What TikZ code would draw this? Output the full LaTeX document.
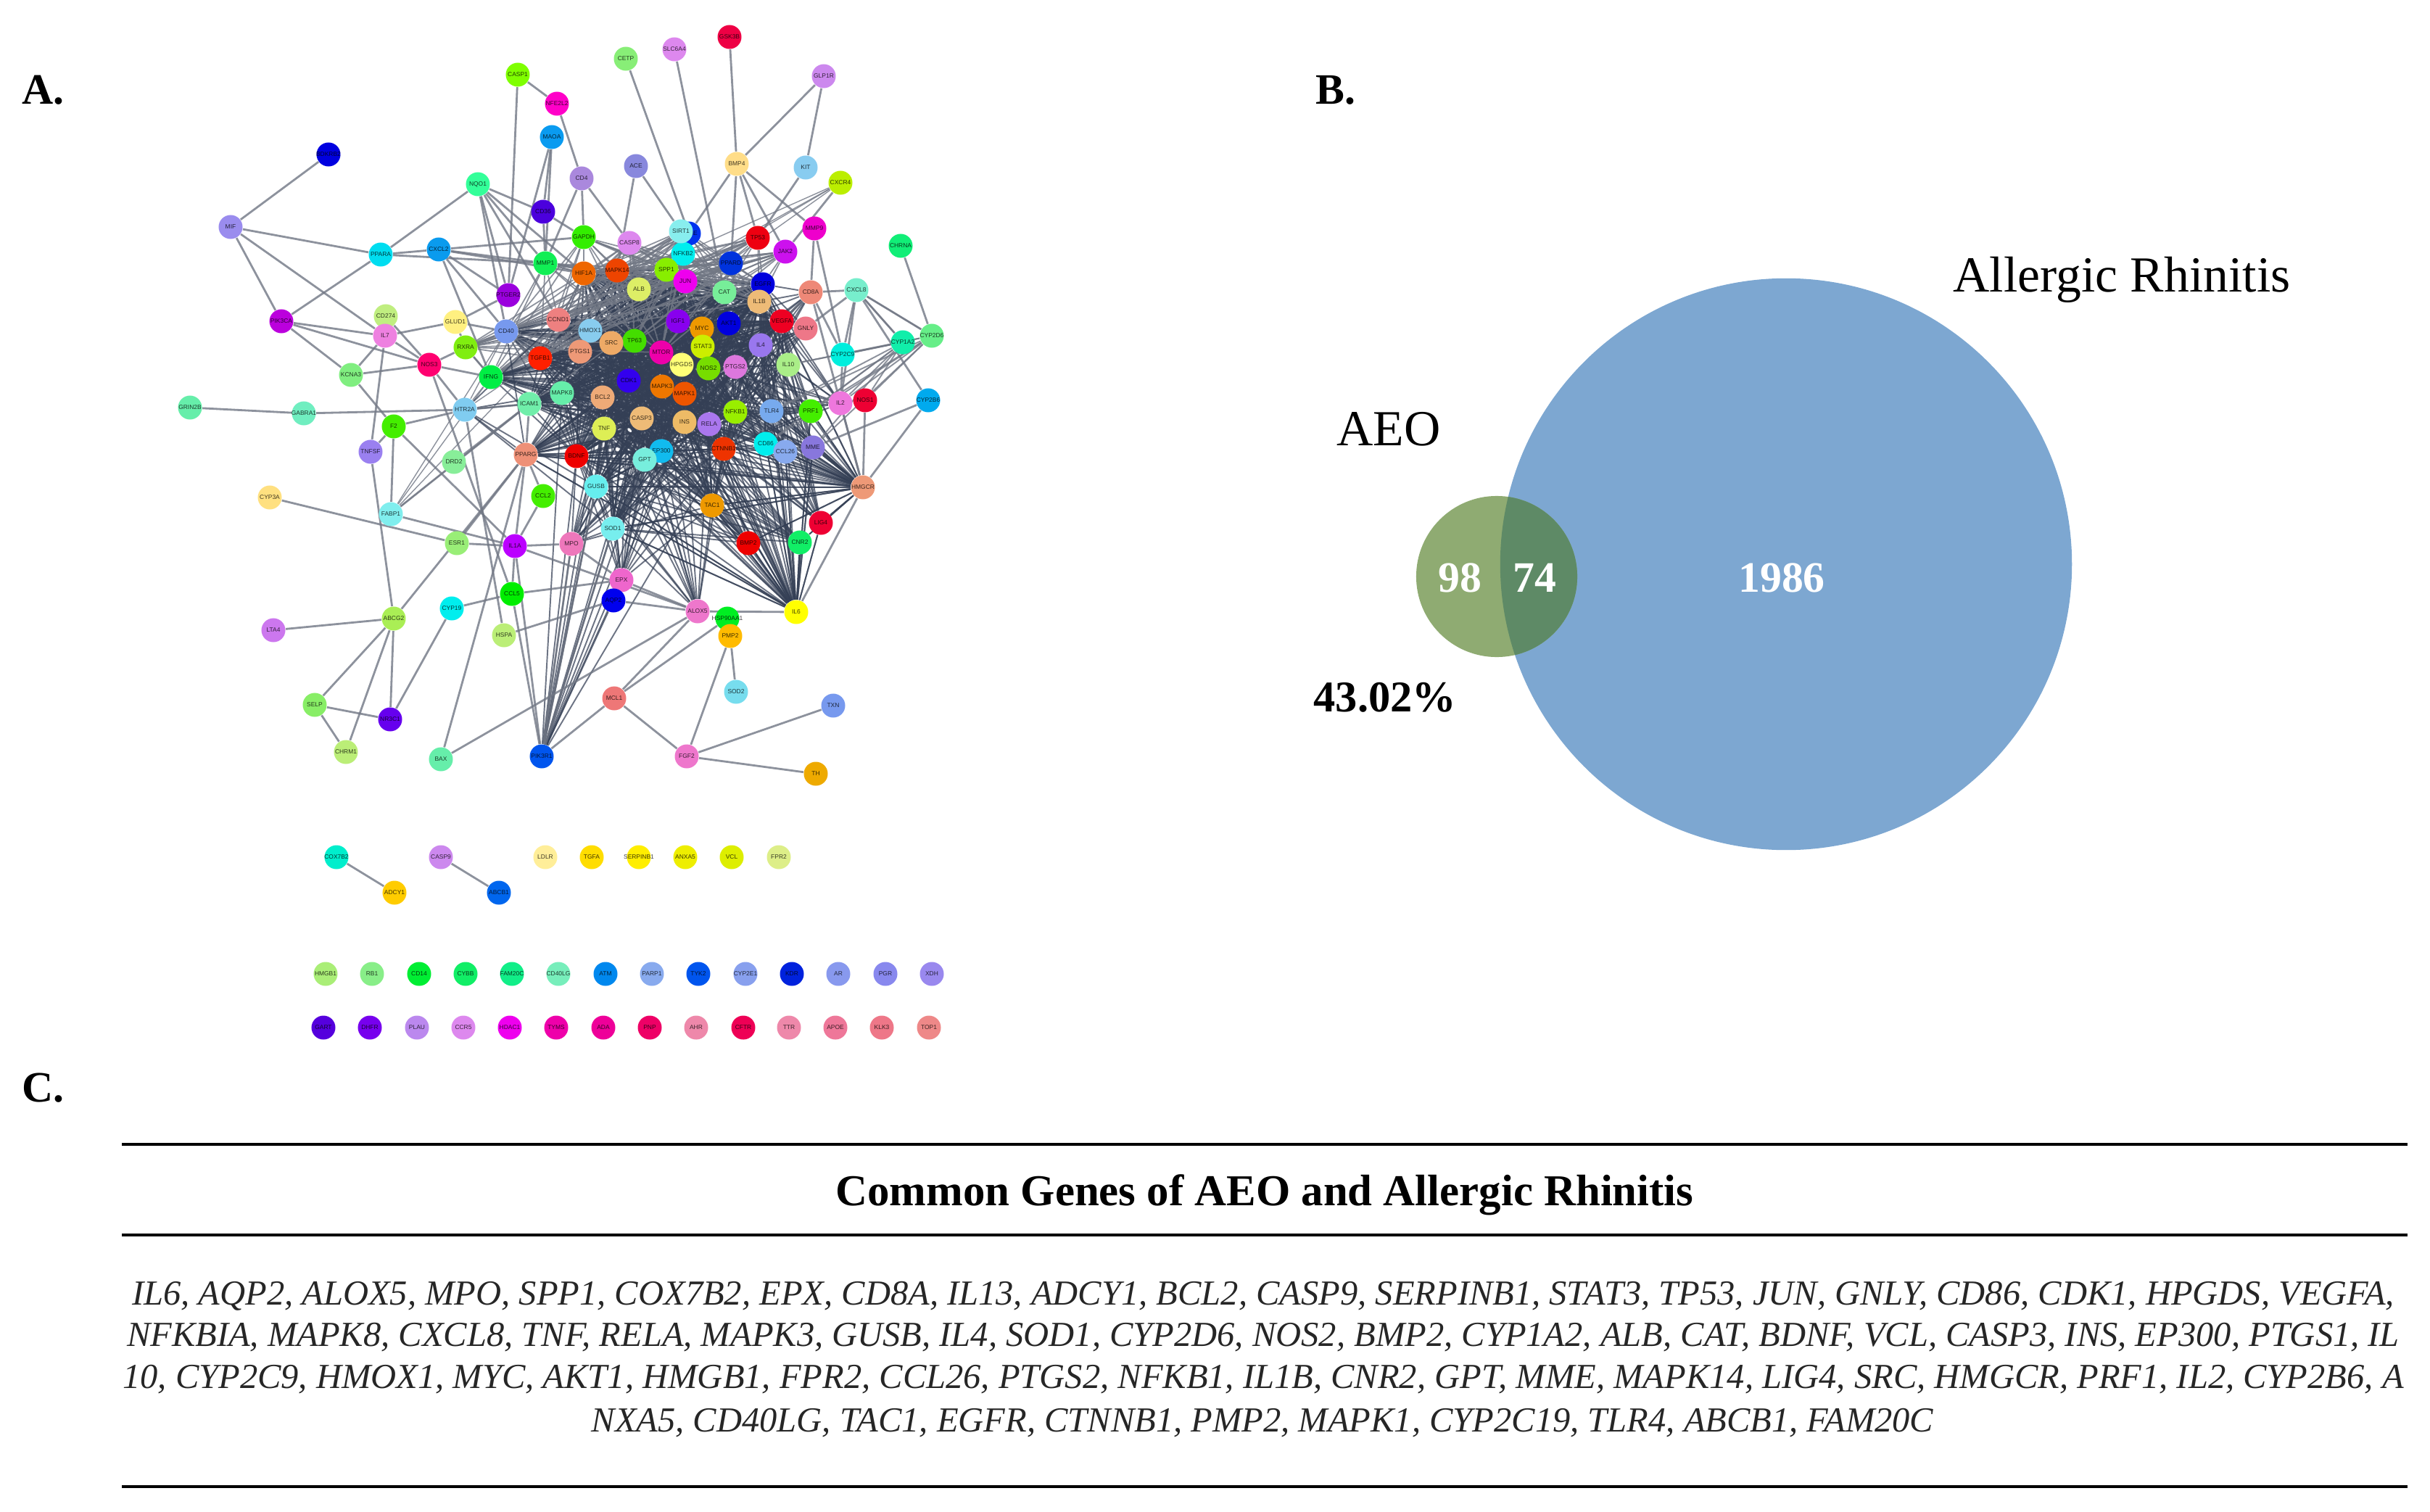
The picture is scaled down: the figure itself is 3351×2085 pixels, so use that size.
\documentclass[tikz,border=0pt]{standalone}
\usepackage{fontspec}
\setmainfont{Liberation Serif}
\newfontfamily\genefont{Liberation Sans}
\usetikzlibrary{backgrounds}
\tikzset{
  gene/.style={circle,draw=none,minimum size=.33cm,inner sep=0pt,font=\genefont\fontsize{2.4}{3}\selectfont,text=black,text opacity=.75},
  edge/.style={draw=edgegray,line width=.8pt,opacity=.8},
  coreedge/.style={draw=edgedark,line width=.55pt,opacity=.72},
  rulefill/.style={line width=1.1pt,black},
  panel/.style={font=\fontsize{17}{20}\selectfont\bfseries,inner sep=0pt},
  big/.style={font=\fontsize{19.8}{23}\selectfont,inner sep=0pt},
  num/.style={font=\fontsize{17}{20}\selectfont\bfseries,text=white,inner sep=0pt},
  bodyline/.style={font=\fontsize{13.8}{17}\selectfont\itshape,inner sep=0pt,text=black!85},
}
\definecolor{edgegray}{HTML}{717784}
\definecolor{edgedark}{HTML}{343F55}
\definecolor{vennblue}{HTML}{7DA7D1}
\definecolor{venngreen}{HTML}{8FAB72}
\definecolor{vennmix}{HTML}{5E8A66}
\begin{document}
\begin{tikzpicture}[x=.01cm,y=-.01cm]
\useasboundingbox (0,0) rectangle (3351,2085);
% ---------- network nodes
\foreach \i/\x/\y/\c in {
BDKRB2/453/213/0000E0, MIF/318/313/9A8CEE, CASP1/714/103/7FFF00, NFE2L2/768/143/FF00C8,
MAOA/761/189/0A9BF0, NQO1/659/254/33FF99, CD36/749/292/4B00DD, PPARA/525/351/00DDF0,
CXCL2/605/344/0A9BEE, MMP1/752/363/11EE55, PTGER2/701/407/9A00DD, PIK3CA/388/443/BB00DD,
CD274/532/436/C0EE80, GLUD1/628/444/FFF080, IL7/531/463/EE80E0, CD40/698/457/7799EE,
RXRA/642/479/80EE10, NOS3/592/503/FF0070, TGFB1/745/494/FF2000, IFNG/677/520/00EE44,
KCNA3/484/517/80EE80, GRIN2B/262/562/66EEAA, GABRA1/419/570/70EEC0, HTR2A/641/565/80CCF0,
F2/543/588/44EE00, TNFSF/511/623/9A80F0, DRD2/626/637/88EE99, PPARG/725/627/EE9077,
ICAM1/730/557/70EEAA, CYP3A/372/686/FFE080, FABP1/539/709/80EEEE, ESR1/630/749/99EE77,
IL1A/710/753/BB00FF, CCL2/749/684/44EE00, CCL5/706/819/00EE00, CYP19/623/839/00EEEE,
ABCG2/543/853/AAEE55, HSPA/695/876/BBEE77, LTA4/377/869/CC77EE, SELP/434/972/88EE66,
NR3C1/538/992/6600EE, CHRM1/477/1037/BBEE77, BAX/608/1047/66EEAA, PIK3R1/747/1043/0055EE,
MCL1/847/963/EE7777, FGF2/947/1043/EE77CC, SOD2/1015/954/77DDEE, TXN/1149/973/7799EE,
TH/1125/1067/EEAA00,
CETP/863/81/88EE77, SLC6A4/930/68/DD88EE, GSK3B/1006/51/EE0044, GLP1R/1136/105/CC88EE,
BMP4/1016/226/FFDD88, KIT/1111/231/88CCF0, CXCR4/1159/252/BBEE00, ACE/877/229/8888DD,
CD4/802/246/AA88DD, MMP9/1123/315/EE00CC, CHRNA/1242/339/11EE77, TP53/1045/328/EE0011,
JAK2/1083/347/CC11EE, PPARD/1008/363/0033DD, GAPDH/805/327/33EE00, CASP8/868/335/DD88EE,
ACHE/950/322/0033EE, NFKB2/942/350/00EEEE, SIRT1/939/319/88EEEE, HIF1A/805/377/EE6600,
MAPK14/851/373/EE4400, SPP1/919/372/88EE00, JUN/945/388/EE00EE, ALB/881/399/DDEE66,
CAT/999/403/77EE99, EGFR/1052/392/0000DD, IL1B/1047/416/EEBB77, CD8A/1118/403/EE8877,
CXCL8/1181/400/77EECC, CYP2D6/1285/463/66EE88, CYP1A2/1245/472/11EEAA, IGF1/935/443/8800EE,
MYC/968/453/EE9900, AKT1/1005/446/0000DD, VEGFA/1078/443/EE0022, GNLY/1111/453/EE7788,
CYP2C9/1162/489/00EEDD, IL4/1049/476/9977EE, STAT3/969/478/CCEE00, NOS2/977/508/77DD00,
PTGS2/1014/506/DD77DD, HPGDS/940/503/FFFF77, MTOR/912/486/EE00AA, TP63/875/470/44DD00,
SRC/843/473/EEAA66, HMOX1/814/456/88CCEE, PTGS1/800/485/EE9977, CCND1/770/441/EE8080,
IL10/1087/503/AAEE88, MAPK8/775/542/66EEAA, BCL2/831/548/EEAA77, CDK1/867/525/3300EE,
MAPK3/913/533/EE7700, MAPK1/944/543/EE5500, TNF/833/591/DDEE55, CASP3/885/577/EEBB77,
INS/944/582/EEBB66, RELA/978/585/AA77EE, NFKB1/1014/568/99EE00, TLR4/1064/567/77AAEE,
PRF1/1118/567/44EE00, IL2/1159/556/EE77DD, NOS1/1193/552/EE0033, CYP2B6/1280/552/00AAEE,
BDNF/795/629/EE0000, CTNNB1/998/619/EE3300, EP300/912/622/11BBEE, GPT/889/634/77EEDD,
CD86/1056/612/00EEEE, CCL26/1083/623/88AAEE, MME/1121/617/8877DD, GUSB/822/671/66EEEE,
HMGCR/1190/672/EE9977, TAC1/982/697/EE9900, LIG4/1132/721/EE0033, SOD1/845/729/77EEEE,
BMP2/1032/749/EE0000, CNR2/1103/748/11EE66, MPO/788/750/EE77BB, EPX/857/800/EE66CC,
AQP2/846/828/0000EE, ALOX5/962/843/EE77CC, HSP90AA1/1003/853/00EE22, IL6/1098/844/FFFF00,
PMP2/1007/877/FFBB00,
COX7B2/464/1182/00EECC, ADCY1/544/1231/FFCC00, CASP9/608/1182/CC88EE, ABCB1/688/1231/0066EE,
LDLR/752/1182/FFEE99, TGFA/816/1182/FFDD00, SERPINB1/881/1182/FFEE00, ANXA5/945/1182/EEEE00,
VCL/1009/1182/DDEE00, FPR2/1074/1182/DDEE88,
HMGB1/449/1343/AAEE77, RB1/513/1343/88EE88, CD14/578/1343/00EE33, CYBB/642/1343/11EE66,
FAM20C/706/1343/11EE88, CD40LG/770/1343/77EEBB, ATM/835/1343/0088EE, PARP1/899/1343/88AAEE,
TYK2/963/1343/0055EE, CYP2E1/1028/1343/88A0EE, KDR/1092/1343/0022DD, AR/1156/1343/8899EE,
PGR/1221/1343/8888EE, XDH/1285/1343/9988EE,
GART/446/1417/5500DD, DHFR/510/1417/7700EE, PLAU/575/1417/BB88EE, CCR5/639/1417/DD88EE,
HDAC1/703/1417/EE00EE, TYMS/767/1417/EE00AA, ADA/832/1417/EE0099, PNP/896/1417/EE0066,
AHR/960/1417/EE88AA, CFTR/1025/1417/EE0055, TTR/1088/1417/EE88AA, APOE/1152/1417/EE7799,
KLK3/1216/1417/EE7788, TOP1/1281/1417/EE8888}{
  \definecolor{nc}{HTML}{\c}
  \node[gene,fill=nc] (\i) at (\x,\y) {\makebox[0pt]{\i}};
}
% ---------- edges, under the nodes
\begin{pgfonlayer}{background}
% dense core: complete graph
\foreach \a [count=\p] in {HIF1A,MAPK14,ALB,IGF1,MYC,AKT1,STAT3,HPGDS,NOS2,PTGS2,MTOR,TP63,SRC,HMOX1,PTGS1,CDK1,MAPK3,MAPK1,BCL2,TNF,CASP3,INS,RELA,NFKB1,EP300,GPT,CTNNB1,JUN,SPP1,CAT,IL1B,EGFR,IL4,VEGFA,MAPK8,ICAM1,BDNF,TGFB1}{
  \foreach \b [count=\q] in {HIF1A,MAPK14,ALB,IGF1,MYC,AKT1,STAT3,HPGDS,NOS2,PTGS2,MTOR,TP63,SRC,HMOX1,PTGS1,CDK1,MAPK3,MAPK1,BCL2,TNF,CASP3,INS,RELA,NFKB1,EP300,GPT,CTNNB1,JUN,SPP1,CAT,IL1B,EGFR,IL4,VEGFA,MAPK8,ICAM1,BDNF,TGFB1}{
    \ifnum\p<\q \draw[coreedge] (\a) -- (\b); \fi
  }
}
% hubs on the rim of the core
\foreach \a in {IFNG,CD40,CCND1,PPARG,GUSB,SOD1,TAC1,IL6,HMGCR}{
  \foreach \b in {ALB,IGF1,MYC,AKT1,STAT3,HPGDS,MTOR,TP63,SRC,CDK1,MAPK3,MAPK1,BCL2,TNF,CASP3,INS,RELA,NFKB1,EP300,GPT,CTNNB1,MAPK8,BDNF,IL4,EGFR,VEGFA}{
    \draw[coreedge] (\a) -- (\b);
  }
}
\foreach \a in {IL6,HMGCR}{
  \foreach \b in {TLR4,PRF1,MME,CCL26,CD86,BMP2,CNR2,TAC1,SOD1,GUSB,PPARG,LIG4}{
    \draw[coreedge] (\a) -- (\b);
    \draw[coreedge] (\a) -- (\b);
  }
}
\foreach \a in {PIK3R1}{
  \foreach \b in {SOD1,GUSB,MPO,EPX,AQP2,BDNF,GPT,EP300,TNF,BCL2,CASP3,CTNNB1,MAPK8,INS,SOD1,GUSB}{
    \draw[coreedge] (\a) -- (\b);
  }
}
\foreach \a in {EPX,ALOX5,MPO,CNR2,BMP2}{
  \foreach \b in {SOD1,GUSB,EP300,GPT,BDNF,TNF,CASP3,INS,RELA,CTNNB1,TAC1,CDK1,MAPK3,BCL2}{
    \draw[coreedge] (\a) -- (\b);
  }
}
\foreach \a in {TLR4,PRF1,MME,CCL26,CD86,IL10,GNLY,CD8A,LIG4,IL2}{
  \foreach \b in {NFKB1,RELA,INS,IL4,PTGS2,NOS2,AKT1,EGFR,VEGFA,CTNNB1,MAPK1,IL1B}{
    \draw[coreedge] (\a) -- (\b);
  }
}
\foreach \a in {MMP1,GAPDH,CASP8,SIRT1,NFKB2,ACHE,TP53,PPARD,JAK2,RXRA}{
  \foreach \b in {HIF1A,MAPK14,SPP1,ALB,JUN,CAT,EGFR,IL1B,MTOR,TP63,IFNG,CD40,CCND1,TGFB1}{
    \draw[edge,line width=.5pt] (\a) -- (\b);
  }
}
\foreach \a in {CYP2D6,CYP1A2}{
  \foreach \b in {IL2,NOS1,PRF1,TLR4,IL10,CXCL8,CYP2C9,CD86,MME}{
    \draw[edge,line width=.55pt] (\a) -- (\b);
  }
}
\foreach \a in {CXCR4,HTR2A,FABP1}{
  \foreach \b in {IFNG,CD40,ICAM1,TGFB1}{
    \draw[edge,line width=.4pt] (\a) -- (\b);
  }
}
\foreach \a/\b in {IFNG/TP63,IFNG/BCL2,CD40/HMOX1,CD40/CCND1,CD40/PPARG,
  HTR2A/CCND1,HTR2A/PPARG,HTR2A/GUSB,HTR2A/BCL2,HTR2A/MAPK8,HTR2A/SOD1}{
  \draw[coreedge] (\a) -- (\b);
}
% periphery
\foreach \a/\b in {
MIF/BDKRB2,MIF/PPARA,MIF/PIK3CA,MIF/IL7,PPARA/NQO1,PPARA/PIK3CA,PPARA/CXCL2,PPARA/MMP1,
CXCL2/PTGER2,CXCL2/CD40,CXCL2/IFNG,CXCL2/MMP1,CXCL2/HIF1A,CXCL2/GAPDH,
NQO1/CD36,NQO1/PTGER2,NQO1/MMP1,NQO1/HIF1A,NQO1/CCND1,NQO1/CD40,
CASP1/NFE2L2,CASP1/PTGER2,NFE2L2/CD4,MAOA/PTGER2,MAOA/CD36,MAOA/MMP1,CD36/MMP1,CD36/GAPDH,
CD4/GAPDH,CD4/CASP8,CD4/MMP1,ACE/MAPK14,ACE/SIRT1,CETP/ACHE,SLC6A4/CAT,GSK3B/BMP4,
GLP1R/BMP4,GLP1R/KIT,BMP4/ACHE,BMP4/TP53,BMP4/MMP9,BMP4/PPARD,BMP4/JAK2,KIT/TP53,CXCR4/JAK2,
MMP9/CD8A,MMP9/CYP2C9,CHRNA/CYP2D6,CD8A/CXCL8,CXCL8/CYP2C9,CXCL8/CYP1A2,CXCL8/CYP2D6,
CXCL8/GNLY,CXCL8/IL2,CXCL8/CYP2B6,CYP2B6/MME,CYP2C9/IL2,CD8A/CYP2C9,CD8A/VEGFA,
PIK3CA/IL7,PIK3CA/KCNA3,PIK3CA/NOS3,CD274/NOS3,IL7/KCNA3,IL7/NOS3,IL7/TNFSF,IL7/GLUD1,
GLUD1/RXRA,GLUD1/CD40,GLUD1/PTGER2,KCNA3/NOS3,KCNA3/F2,NOS3/RXRA,NOS3/IFNG,NOS3/HTR2A,
NOS3/CCL5,RXRA/CD40,RXRA/IFNG,GRIN2B/GABRA1,GABRA1/HTR2A,HTR2A/ICAM1,HTR2A/F2,HTR2A/HSPA,
F2/TNFSF,F2/FABP1,F2/IL1A,TNFSF/ABCG2,FABP1/IL1A,CYP3A/ESR1,ESR1/IL1A,DRD2/ICAM1,PPARG/IL1A,
PPARG/ESR1,ABCG2/PPARG,ABCG2/LTA4,ABCG2/SELP,ABCG2/NR3C1,ABCG2/CHRM1,CYP19/CCL5,CYP19/NR3C1,
SELP/NR3C1,SELP/CHRM1,CCL5/IL1A,CCL5/EPX,HSPA/AQP2,BAX/PPARG,BAX/ALOX5,MCL1/PIK3R1,MCL1/FGF2,
MCL1/ALOX5,MCL1/HSP90AA1,FGF2/PMP2,FGF2/TXN,FGF2/TH,PMP2/SOD2,PMP2/HSP90AA1,AQP2/ALOX5,
EPX/ALOX5,ALOX5/IL6,HMGCR/IL6,HMGCR/CYP2B6,HMGCR/NOS1,HMGCR/IL2,HMGCR/CD8A,CCL2/IL1A,IL1A/MPO,
CCL2/PPARG,MPO/EPX,IL1A/PIK3R1,CCL5/PIK3R1,ICAM1/PPARG,ICAM1/FABP1,COX7B2/ADCY1,CASP9/ABCB1,
SOD1/PIK3R1,GUSB/PIK3R1,MPO/PIK3R1,IL1A/ALOX5}{
  \draw[edge] (\a) -- (\b);
}
\end{pgfonlayer}
% ---------- panel labels
\node[panel,anchor=west] (labA) at (30,124) {A.};
\node[panel,anchor=west] (labB) at (1814,124) {B.};
\node[panel,anchor=west] (labC) at (30,1500) {C.};
% ---------- Venn
\node[circle,fill=vennblue,minimum size=7.88cm,inner sep=0pt] (ar) at (2463,778) {};
\node[circle,fill=venngreen,minimum size=2.22cm,inner sep=0pt] (aeo) at (2064,795) {};
\begin{scope}
  \clip (2064,795) circle [radius=1.11cm];
  \fill[vennmix] (2463,778) circle [radius=3.94cm];
\end{scope}
\node[big] (tAR) at (2926,386) {Allergic Rhinitis};
\node[big] (tAEO) at (1915,592) {AEO};
\node[num] (n98) at (2013,797) {98};
\node[num] (n74) at (2116,797) {74};
\node[num] (n1986) at (2457,797) {1986};
\node[font=\fontsize{17.2}{20}\selectfont\bfseries,inner sep=0pt] (pct) at (1910,962) {43.02\%};
% ---------- table
\coordinate (r1a) at (168,1578); \coordinate (r1b) at (3320,1578);
\coordinate (r2a) at (168,1703); \coordinate (r2b) at (3320,1703);
\coordinate (r3a) at (168,2050); \coordinate (r3b) at (3320,2050);
\draw[rulefill] (r1a) -- (r1b);
\draw[rulefill] (r2a) -- (r2b);
\draw[rulefill] (r3a) -- (r3b);
\node[font=\fontsize{17.3}{20}\selectfont\bfseries,inner sep=0pt] (ttl) at (1744,1648) {Common Genes of AEO and Allergic Rhinitis};
\node[bodyline] (l1) at (1742,1787) {IL6, AQP2, ALOX5, MPO, SPP1, COX7B2, EPX, CD8A, IL13, ADCY1, BCL2, CASP9, SERPINB1, STAT3, TP53, JUN, GNLY, CD86, CDK1, HPGDS, VEGFA,};
\node[bodyline] (l2) at (1742,1844) {NFKBIA, MAPK8, CXCL8, TNF, RELA, MAPK3, GUSB, IL4, SOD1, CYP2D6, NOS2, BMP2, CYP1A2, ALB, CAT, BDNF, VCL, CASP3, INS, EP300, PTGS1, IL};
\node[bodyline] (l3) at (1742,1902) {10, CYP2C9, HMOX1, MYC, AKT1, HMGB1, FPR2, CCL26, PTGS2, NFKB1, IL1B, CNR2, GPT, MME, MAPK14, LIG4, SRC, HMGCR, PRF1, IL2, CYP2B6, A};
\node[bodyline] (l4) at (1741,1962) {NXA5, CD40LG, TAC1, EGFR, CTNNB1, PMP2, MAPK1, CYP2C19, TLR4, ABCB1, FAM20C};
\end{tikzpicture}
\end{document}
